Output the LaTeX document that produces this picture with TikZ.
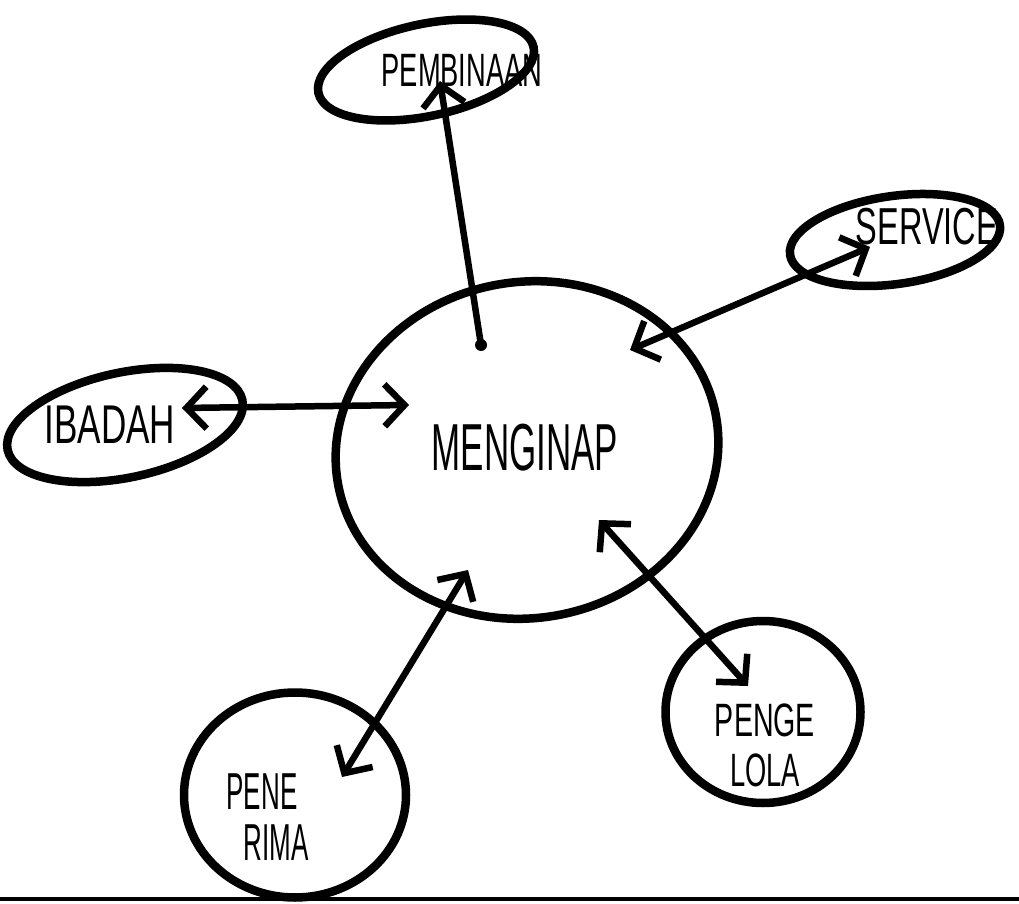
\documentclass[tikz,border=0pt]{standalone}
\usepackage{fontspec}
\setmainfont{Liberation Sans}
\usetikzlibrary{shapes.geometric,arrows.meta}
\newcommand\handtext[3]{\scalebox{#1}[#2]{#3}}
\tikzset{
  x=1pt,y=1pt,
  blob/.style={ellipse,draw,line width=8.5pt,inner sep=0pt},
  lbl/.style={align=center,inner sep=0pt,font=\fontsize{26}{30}\selectfont},
  conn/.style={line width=6.5pt,line cap=round,
    arrows={Straight Barb[length=20pt,width=42pt,line width=6.5pt]-Straight Barb[length=20pt,width=42pt,line width=6.5pt]}},
  conn1/.style={line width=6.5pt,line cap=round,
    arrows={-Straight Barb[length=20pt,width=42pt,line width=6.5pt]}},
}
\begin{document}
\begin{tikzpicture}
\useasboundingbox (0,0) rectangle (1019,903);
% ellipses
\node[blob,minimum width=384,minimum height=336,rotate=10] (m) at (527,453) {};
\node[blob,minimum width=220,minimum height=92,rotate=12] (pb) at (426,833) {};
\node[blob,minimum width=212,minimum height=88,rotate=8] (sv) at (895,663) {};
\node[blob,minimum width=240,minimum height=105,rotate=12] (ib) at (125,478) {};
\node[blob,minimum width=222,minimum height=205] (pr) at (295,108) {};
\node[blob,minimum width=195,minimum height=182] (pg) at (763,191) {};
% labels
\node[lbl] (tm) at (525,455) {\fontsize{38}{40}\selectfont\handtext{0.92}{1.75}{MENGINAP}};
\node[lbl] (tpb) at (462,833) {\handtext{1.05}{1.8}{PEMBINAAN}};
\node[lbl] (tsv) at (927,676) {\handtext{1.25}{2.0}{SERVICE}};
\node[lbl] (tib) at (110,478) {\handtext{1.35}{2.1}{IBADAH}};
\node[lbl] (tpr) at (262,86) {\handtext{1.0}{2.0}{PENE}\\[14pt]\hspace*{28pt}\handtext{1.0}{2.0}{RIMA}};
\node[lbl] (tpg) at (765,158) {\handtext{1.1}{1.8}{PENGE}\\[16pt]\handtext{1.05}{1.8}{LOLA}};
% connector end points
\coordinate (m1) at (481,558);
\coordinate (pb1) at (440,822);
\coordinate (m2) at (630,553);
\coordinate (sv1) at (870,656);
\coordinate (m3) at (409,498);
\coordinate (ib1) at (182,495);
\coordinate (m4) at (468,333);
\coordinate (pr1) at (342,126);
\coordinate (m5) at (599,383);
\coordinate (pg1) at (748,217);
% connectors
\fill (m1) circle (6pt);
\draw[conn1] (m1) -- (pb1);
\draw[conn] (m2) -- (sv1);
\draw[conn] (ib1) -- (m3);
\draw[conn] (m4) -- (pr1);
\draw[conn] (m5) -- (pg1);
% bottom line
\draw[line width=4pt] (0,4) -- (1019,4);
\end{tikzpicture}
\end{document}
